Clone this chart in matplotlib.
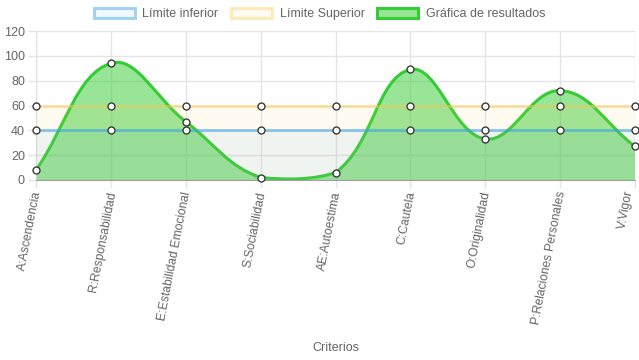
import numpy as np
import matplotlib
matplotlib.use("Agg")
import matplotlib.pyplot as plt
from matplotlib.path import Path
from matplotlib.patches import PathPatch, Patch

plt.rcParams['font.family'] = ['Liberation Sans', 'DejaVu Sans']

criterios = ['A:Ascendencia', 'R:Responsabilidad', 'E:Estabilidad Emocional',
             'S:Sociabilidad', 'AE:Autoestima', 'C:Cautela', 'O:Originalidad',
             'P:Relaciones Personales', 'V:Vigor']
resultados = [8, 94, 47, 2, 6, 89, 33, 72, 27]
limite_inferior = [40] * 9
limite_superior = [60] * 9

W, H = 639, 360
fig = plt.figure(figsize=(W / 100, H / 100), dpi=100)
ax = fig.add_axes([36 / W, 1 - 180 / H, 599 / W, 149 / H])
ax.set_xlim(0, len(criterios) - 1)
ax.set_ylim(0, 120)

# escala en pixeles para la curva estilo Chart.js (tension 0.4)
sx = 599 / (len(criterios) - 1)
sy = 149 / 120


def spline_path(vals, t=0.4, cerrar=False):
    n = len(vals)
    pts = np.array([[i, v] for i, v in enumerate(vals)], dtype=float)
    cps_prev, cps_next = [], []
    for i in range(n):
        cur = pts[i]
        prev = pts[i - 1] if i > 0 else cur
        nxt = pts[i + 1] if i < n - 1 else cur
        d01 = np.hypot((cur[0] - prev[0]) * sx, (cur[1] - prev[1]) * sy)
        d12 = np.hypot((nxt[0] - cur[0]) * sx, (nxt[1] - cur[1]) * sy)
        tot = d01 + d12
        s01 = d01 / tot if tot else 0
        s12 = d12 / tot if tot else 0
        a = cur - t * s01 * (nxt - prev)
        b = cur + t * s12 * (nxt - prev)
        for c in (a, b):
            c[0] = min(max(c[0], 0), n - 1)
            c[1] = min(max(c[1], 0), 120)
        cps_prev.append(a)
        cps_next.append(b)
    verts = [pts[0]]
    codes = [Path.MOVETO]
    for i in range(n - 1):
        verts += [cps_next[i], cps_prev[i + 1], pts[i + 1]]
        codes += [Path.CURVE4] * 3
    if cerrar:
        verts += [[n - 1, 0], [0, 0], [0, 0]]
        codes += [Path.LINETO, Path.LINETO, Path.CLOSEPOLY]
    return Path(verts, codes)


x = np.arange(len(criterios))
verde = (50 / 255, 205 / 255, 50 / 255)
azul = (54 / 255, 162 / 255, 235 / 255)
amarillo = (255 / 255, 205 / 255, 86 / 255)

# resultados (abajo)
ax.add_patch(PathPatch(spline_path(resultados, cerrar=True), facecolor=verde + (0.5,),
                       edgecolor='none', zorder=2))
ax.add_patch(PathPatch(spline_path(resultados), facecolor='none', edgecolor=verde,
                       lw=2.2, zorder=3))
# limites
ax.fill_between(x, 0, limite_superior, color=amarillo + (0.08,), lw=0, zorder=4)
ax.fill_between(x, 0, limite_inferior, color=azul + (0.07,), lw=0, zorder=4)
ax.plot(x, limite_superior, color=amarillo + (0.45,), lw=2.2, zorder=5)
ax.plot(x, limite_inferior, color=azul + (0.5,), lw=2.2, zorder=5)

for serie in (resultados, limite_superior, limite_inferior):
    ax.plot(x, serie, 'o', ms=5, mfc='white', mec='#3a3a3a', mew=1, zorder=6,
            clip_on=False)

ax.set_yticks(range(0, 121, 20))
ax.set_xticks(x)
etiquetas = ax.set_xticklabels(criterios, rotation=79, ha='right', va='center_baseline',
                               rotation_mode='anchor', fontsize=8.7)
etiquetas[-1].set_va('bottom')  # que no se corte en el borde derecho
ax.grid(True, color='#e5e5e5', lw=1, zorder=0)
ax.tick_params(axis='both', colors='#e5e5e5', labelcolor='#666666', labelsize=9,
               length=6, width=1, pad=2)
ax.tick_params(axis='x', labelsize=8.7)
for s in ('top', 'right'):
    ax.spines[s].set_visible(False)
ax.spines['left'].set_color('#e0e0e0')
ax.spines['bottom'].set_color('#a0a0a0')
ax.set_xlabel('Criterios', color='#666666', fontsize=9)
ax.xaxis.set_label_coords(0.5, -1.09)

handles = [
    Patch(facecolor=azul + (0.07,), edgecolor=azul + (0.45,), lw=2.2, label='Límite inferior'),
    Patch(facecolor=amarillo + (0.07,), edgecolor=amarillo + (0.4,), lw=2.2, label='Límite Superior'),
    Patch(facecolor=verde + (0.5,), edgecolor=verde, lw=2.2, label='Gráfica de resultados'),
]
leg = fig.legend(handles=handles, loc='upper center', bbox_to_anchor=(0.5, 1.01), ncol=3,
                 frameon=False, fontsize=9, handlelength=3.3, handleheight=0.9,
                 columnspacing=1.0, handletextpad=0.6)
for t in leg.get_texts():
    t.set_color('#666666')

fig.savefig('out.png', dpi=100)
